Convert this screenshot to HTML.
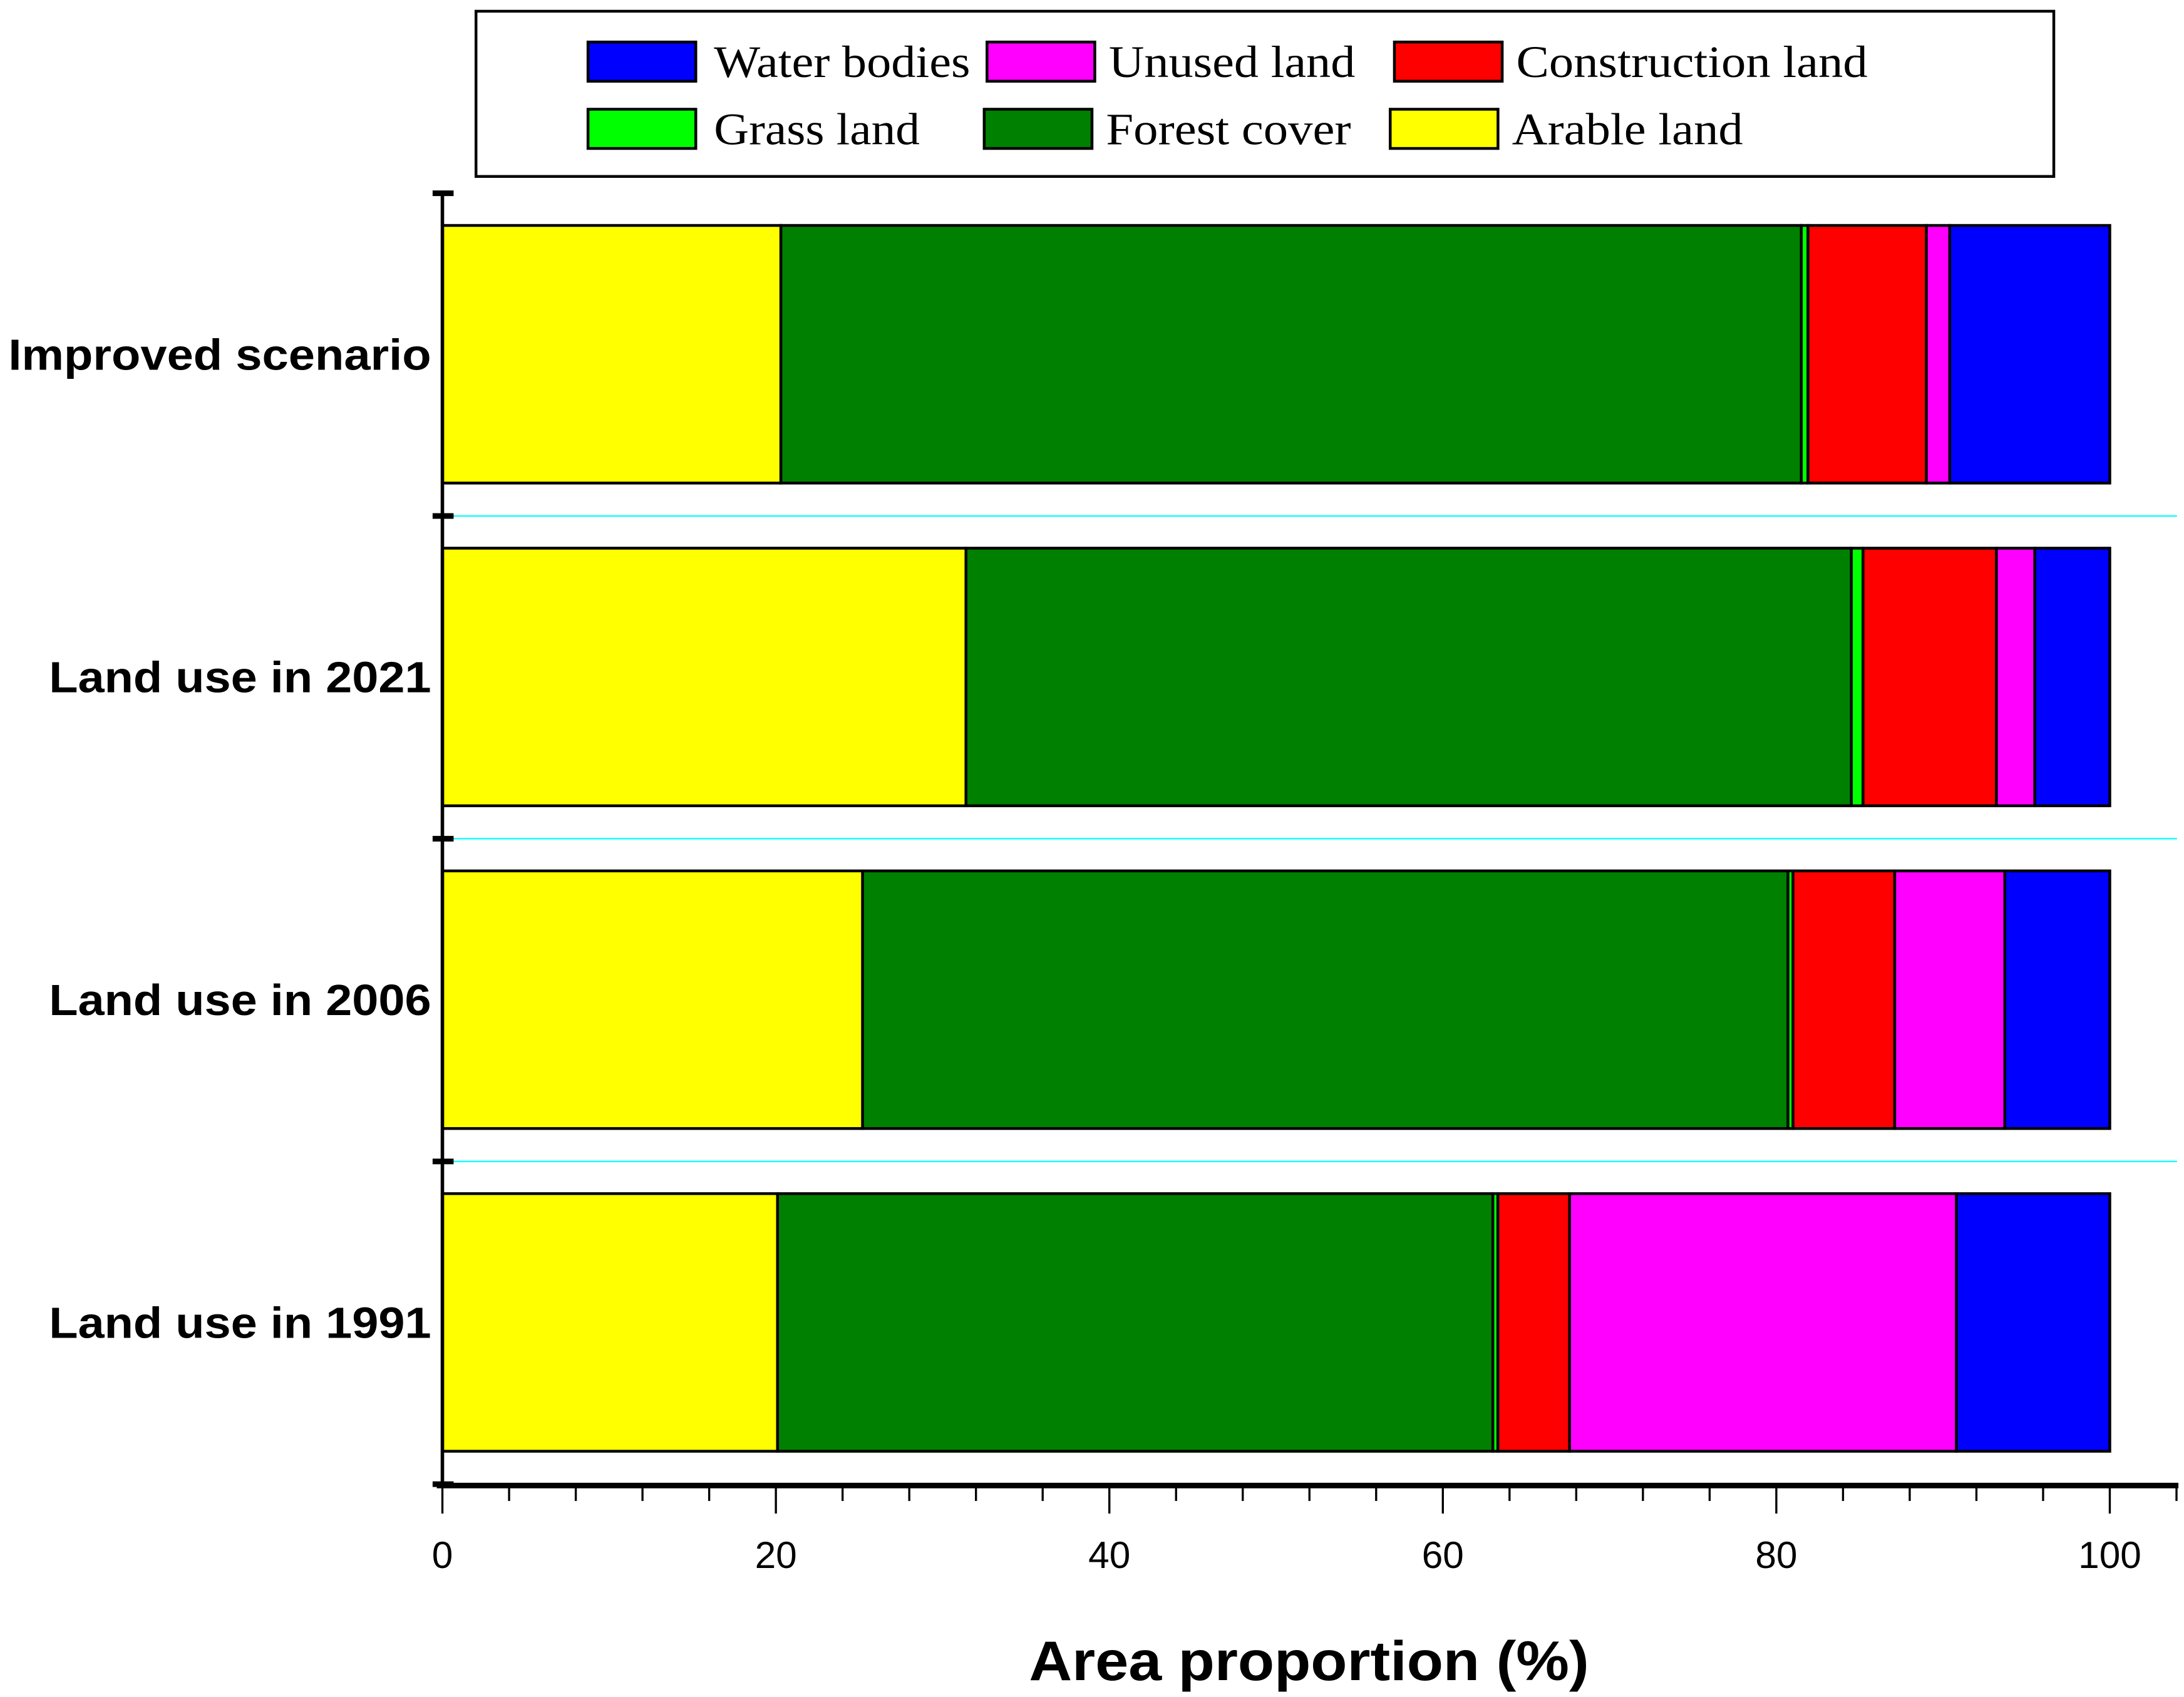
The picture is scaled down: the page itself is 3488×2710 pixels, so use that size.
<!DOCTYPE html>
<html><head><meta charset="utf-8"><style>html,body{margin:0;padding:0;background:#fff}svg{display:block}</style></head>
<body>
<svg id="chart" width="3488" height="2710" viewBox="0 0 1560 1212" xmlns="http://www.w3.org/2000/svg">
<g id="legend">
<rect x="340" y="8" width="1127" height="118" fill="#fff" stroke="#000" stroke-width="2"/>
</g>
<g id="grid"></g>
<g id="bars"></g>
<g id="axes"></g>
</svg>
<script>
const categories = ["Improved scenario", "Land use in 2021", "Land use in 2006", "Land use in 1991"];
const seriesNames = ["Arable land", "Forest cover", "Grass land", "Construction land", "Unused land", "Water bodies"];
const arable = [20.3, 31.4, 25.2, 20.1];
const forest = [61.2, 53.1, 55.5, 42.9];
const grass = [0.4, 0.7, 0.3, 0.3];
const construction = [7.1, 8.0, 6.1, 4.3];
const unused = [1.4, 2.3, 6.6, 23.2];
const water = [9.6, 4.5, 6.3, 9.2];
const xTicks = [0, 20, 40, 60, 80, 100];
const colors = ["#ffff00", "#008000", "#00ff00", "#ff0000", "#ff00ff", "#0000ff"];

const NS = "http://www.w3.org/2000/svg";
const X0 = 316, X1 = 1507;
function xs(v) { return X0 + (X1 - X0) * v / 100; }
const bandTop = 138, bandH = 230.5;
function yBand(i) { return bandTop + i * bandH; }
function mk(tag, attrs, parent) {
  const e = document.createElementNS(NS, tag);
  for (const k in attrs) e.setAttribute(k, attrs[k]);
  parent.appendChild(e);
  return e;
}
const series = [arable, forest, grass, construction, unused, water];
const barsG = document.getElementById('bars');
const gridG = document.getElementById('grid');
const axesG = document.getElementById('axes');
const legendG = document.getElementById('legend');

// cyan separators
for (let i = 1; i < categories.length; i++) {
  const l = mk('line', {x1: 322, x2: 1555, y1: yBand(i), y2: yBand(i), stroke: '#00ffff', 'stroke-width': 1}, gridG);
  
  
}

// bars
categories.forEach((c, i) => {
  const y = yBand(i) + 23, h = 184;
  let cum = 0;
  series.forEach((s, j) => {
    const r = mk('rect', {x: xs(cum), y: y, width: xs(cum + s[i]) - xs(cum), height: h, fill: colors[j], stroke: '#000', 'stroke-width': 2}, barsG);
    
    
    cum += s[i];
  });
  const t = mk('text', {x: 308, y: y + h / 2 + 11, 'text-anchor': 'end', 'font-family': 'Liberation Sans, sans-serif', 'font-weight': 'bold', 'font-size': 31, textLength: i === 0 ? 302 : 273, lengthAdjust: 'spacingAndGlyphs'}, axesG);
  t.textContent = c;
  
  
});

// axes
const ya = mk('line', {x1: X0, x2: X0, y1: 138, y2: 1061, stroke: '#000', 'stroke-width': 2.5}, axesG);


for (let i = 0; i <= categories.length; i++) {
  const tk = mk('line', {x1: 309, x2: 324, y1: yBand(i), y2: yBand(i), stroke: '#000', 'stroke-width': 4}, axesG);
  
  
}
const xa = mk('line', {x1: 312, x2: 1556, y1: 1061, y2: 1061, stroke: '#000', 'stroke-width': 4}, axesG);


for (let v = 0; v <= 104; v += 4) {
  const major = v % 20 === 0;
  const tk = mk('line', {x1: xs(v), x2: xs(v), y1: 1061, y2: major ? 1081 : 1072, stroke: '#000', 'stroke-width': 1.5}, axesG);
  
  
}
xTicks.forEach(v => {
  const t = mk('text', {x: xs(v), y: 1120, 'text-anchor': 'middle', 'font-family': 'Liberation Sans, sans-serif', 'font-size': 27}, axesG);
  t.textContent = v;
  
  
});
const xt = mk('text', {x: 935, y: 1200, 'text-anchor': 'middle', 'font-family': 'Liberation Sans, sans-serif', 'font-weight': 'bold', 'font-size': 40, textLength: 400, lengthAdjust: 'spacingAndGlyphs'}, axesG);
xt.textContent = 'Area proportion (%)';



// legend
const legendItems = [
  {n: 5, sx: 420, tx: 510, y: 30, w: 183}, {n: 4, sx: 705, tx: 792, y: 30, w: 176}, {n: 3, sx: 996, tx: 1083, y: 30, w: 251},
  {n: 2, sx: 420, tx: 510, y: 78, w: 147}, {n: 1, sx: 703, tx: 790, y: 78, w: 175}, {n: 0, sx: 993, tx: 1080, y: 78, w: 165}
];
legendItems.forEach(it => {
  const r = mk('rect', {x: it.sx, y: it.y, width: 77, height: 28, fill: colors[it.n], stroke: '#000', 'stroke-width': 2}, legendG);
  
  
  const t = mk('text', {x: it.tx, y: it.y + 25, 'font-family': 'Liberation Serif, serif', 'font-size': 32, textLength: it.w, lengthAdjust: 'spacingAndGlyphs'}, legendG);
  t.textContent = seriesNames[it.n];
  
  
});
</script>
</body></html>
